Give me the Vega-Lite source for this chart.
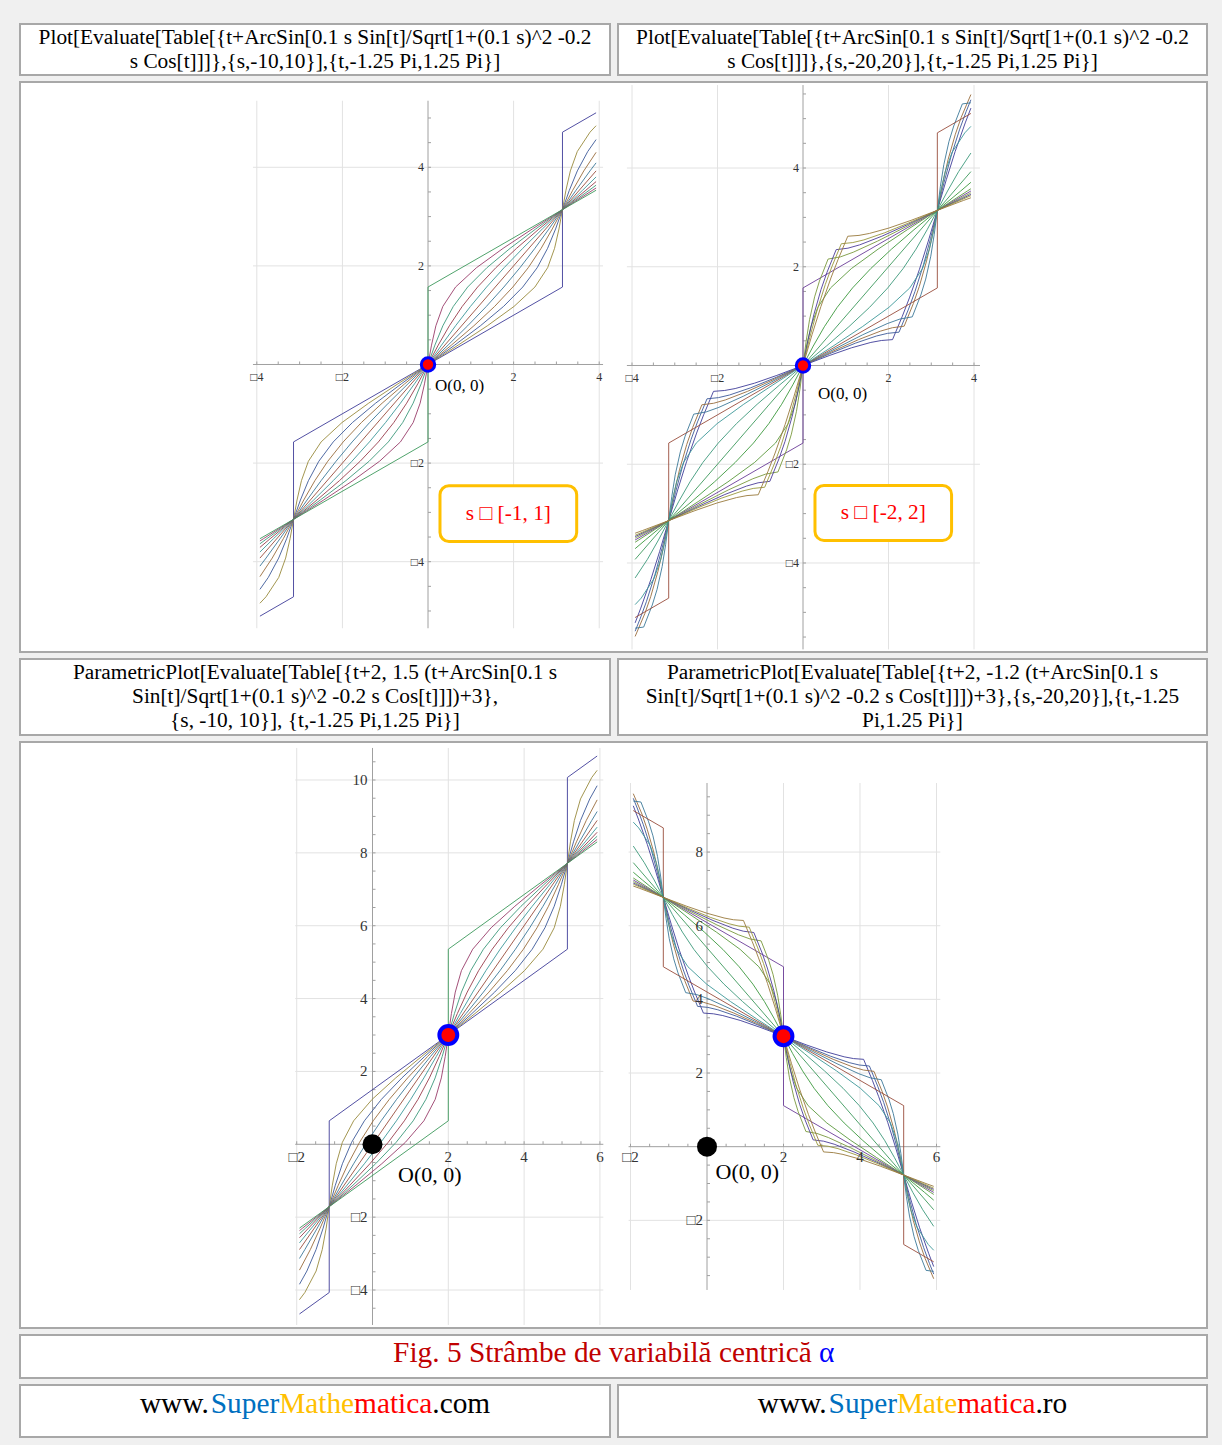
{
"$schema": "https://vega.github.io/schema/vega-lite/v6.json",
"background": "#f0f0f0",
"padding": {"left": 19, "top": 23, "right": 14, "bottom": 7},
"spacing": 5,
"config": {
  "view": {"stroke": "#a8a8a8", "strokeWidth": 2, "fill": "#ffffff"},
  "text": {"font": "Liberation Serif", "baseline": "middle"},
  "legend": {"disable": true}
},
"datasets": {
"d1": [
{"s":-10,"t":-3.927,"f":-5.105,"x":-1.927,"y":-4.658},
{"s":-10,"t":-3.142,"f":-4.712,"x":-1.142,"y":-4.069},
{"s":-10,"t":-3.142,"f":-1.571,"x":-1.142,"y":0.644},
{"s":-10,"t":0,"f":0,"x":2,"y":3},
{"s":-10,"t":3.142,"f":1.571,"x":5.142,"y":5.356},
{"s":-10,"t":3.142,"f":4.712,"x":5.142,"y":10.069},
{"s":-10,"t":3.927,"f":5.105,"x":5.927,"y":10.658},
{"s":-8,"t":-3.927,"f":-4.843,"x":-1.927,"y":-4.265},
{"s":-8,"t":-3.785,"f":-4.712,"x":-1.785,"y":-4.069},
{"s":-8,"t":-3.488,"f":-4.32,"x":-1.488,"y":-3.48},
{"s":-8,"t":-3.326,"f":-3.927,"x":-1.326,"y":-2.89},
{"s":-8,"t":-3.223,"f":-3.534,"x":-1.223,"y":-2.301},
{"s":-8,"t":-3.142,"f":-3.142,"x":-1.142,"y":-1.712},
{"s":-8,"t":-3.06,"f":-2.749,"x":-1.06,"y":-1.123},
{"s":-8,"t":-2.957,"f":-2.356,"x":-0.957,"y":-0.534},
{"s":-8,"t":-2.795,"f":-1.963,"x":-0.795,"y":0.055},
{"s":-8,"t":-2.498,"f":-1.571,"x":-0.498,"y":0.644},
{"s":-8,"t":-2.01,"f":-1.178,"x":-0.01,"y":1.233},
{"s":-8,"t":-1.387,"f":-0.785,"x":0.613,"y":1.822},
{"s":-8,"t":-0.704,"f":-0.393,"x":1.296,"y":2.411},
{"s":-8,"t":0,"f":0,"x":2,"y":3},
{"s":-8,"t":0.704,"f":0.393,"x":2.704,"y":3.589},
{"s":-8,"t":1.387,"f":0.785,"x":3.387,"y":4.178},
{"s":-8,"t":2.01,"f":1.178,"x":4.01,"y":4.767},
{"s":-8,"t":2.498,"f":1.571,"x":4.498,"y":5.356},
{"s":-8,"t":2.795,"f":1.963,"x":4.795,"y":5.945},
{"s":-8,"t":2.957,"f":2.356,"x":4.957,"y":6.534},
{"s":-8,"t":3.06,"f":2.749,"x":5.06,"y":7.123},
{"s":-8,"t":3.142,"f":3.142,"x":5.142,"y":7.712},
{"s":-8,"t":3.223,"f":3.534,"x":5.223,"y":8.301},
{"s":-8,"t":3.326,"f":3.927,"x":5.326,"y":8.89},
{"s":-8,"t":3.488,"f":4.32,"x":5.488,"y":9.48},
{"s":-8,"t":3.785,"f":4.712,"x":5.785,"y":10.069},
{"s":-8,"t":3.927,"f":4.843,"x":5.927,"y":10.265},
{"s":-6,"t":-3.927,"f":-4.562,"x":-1.927,"y":-3.843},
{"s":-6,"t":-3.732,"f":-4.32,"x":-1.732,"y":-3.48},
{"s":-6,"t":-3.489,"f":-3.927,"x":-1.489,"y":-2.89},
{"s":-6,"t":-3.303,"f":-3.534,"x":-1.303,"y":-2.301},
{"s":-6,"t":-3.142,"f":-3.142,"x":-1.142,"y":-1.712},
{"s":-6,"t":-2.981,"f":-2.749,"x":-0.981,"y":-1.123},
{"s":-6,"t":-2.794,"f":-2.356,"x":-0.794,"y":-0.534},
{"s":-6,"t":-2.551,"f":-1.963,"x":-0.551,"y":0.055},
{"s":-6,"t":-2.214,"f":-1.571,"x":-0.214,"y":0.644},
{"s":-6,"t":-1.766,"f":-1.178,"x":0.234,"y":1.233},
{"s":-6,"t":-1.224,"f":-0.785,"x":0.776,"y":1.822},
{"s":-6,"t":-0.624,"f":-0.393,"x":1.376,"y":2.411},
{"s":-6,"t":0,"f":0,"x":2,"y":3},
{"s":-6,"t":0.624,"f":0.393,"x":2.624,"y":3.589},
{"s":-6,"t":1.224,"f":0.785,"x":3.224,"y":4.178},
{"s":-6,"t":1.766,"f":1.178,"x":3.766,"y":4.767},
{"s":-6,"t":2.214,"f":1.571,"x":4.214,"y":5.356},
{"s":-6,"t":2.551,"f":1.963,"x":4.551,"y":5.945},
{"s":-6,"t":2.794,"f":2.356,"x":4.794,"y":6.534},
{"s":-6,"t":2.981,"f":2.749,"x":4.981,"y":7.123},
{"s":-6,"t":3.142,"f":3.142,"x":5.142,"y":7.712},
{"s":-6,"t":3.303,"f":3.534,"x":5.303,"y":8.301},
{"s":-6,"t":3.489,"f":3.927,"x":5.489,"y":8.89},
{"s":-6,"t":3.732,"f":4.32,"x":5.732,"y":9.48},
{"s":-6,"t":3.927,"f":4.562,"x":5.927,"y":9.843},
{"s":-4,"t":-3.927,"f":-4.303,"x":-1.927,"y":-3.454},
{"s":-4,"t":-3.64,"f":-3.927,"x":-1.64,"y":-2.89},
{"s":-4,"t":-3.381,"f":-3.534,"x":-1.381,"y":-2.301},
{"s":-4,"t":-3.142,"f":-3.142,"x":-1.142,"y":-1.712},
{"s":-4,"t":-2.903,"f":-2.749,"x":-0.903,"y":-1.123},
{"s":-4,"t":-2.643,"f":-2.356,"x":-0.643,"y":-0.534},
{"s":-4,"t":-2.342,"f":-1.963,"x":-0.342,"y":0.055},
{"s":-4,"t":-1.982,"f":-1.571,"x":0.018,"y":0.644},
{"s":-4,"t":-1.557,"f":-1.178,"x":0.443,"y":1.233},
{"s":-4,"t":-1.072,"f":-0.785,"x":0.928,"y":1.822},
{"s":-4,"t":-0.546,"f":-0.393,"x":1.454,"y":2.411},
{"s":-4,"t":0,"f":0,"x":2,"y":3},
{"s":-4,"t":0.546,"f":0.393,"x":2.546,"y":3.589},
{"s":-4,"t":1.072,"f":0.785,"x":3.072,"y":4.178},
{"s":-4,"t":1.557,"f":1.178,"x":3.557,"y":4.767},
{"s":-4,"t":1.982,"f":1.571,"x":3.982,"y":5.356},
{"s":-4,"t":2.342,"f":1.963,"x":4.342,"y":5.945},
{"s":-4,"t":2.643,"f":2.356,"x":4.643,"y":6.534},
{"s":-4,"t":2.903,"f":2.749,"x":4.903,"y":7.123},
{"s":-4,"t":3.142,"f":3.142,"x":5.142,"y":7.712},
{"s":-4,"t":3.381,"f":3.534,"x":5.381,"y":8.301},
{"s":-4,"t":3.64,"f":3.927,"x":5.64,"y":8.89},
{"s":-4,"t":3.927,"f":4.303,"x":5.927,"y":9.454},
{"s":-2,"t":-3.927,"f":-4.09,"x":-1.927,"y":-3.135},
{"s":-2,"t":-3.785,"f":-3.927,"x":-1.785,"y":-2.89},
{"s":-2,"t":-3.458,"f":-3.534,"x":-1.458,"y":-2.301},
{"s":-2,"t":-3.142,"f":-3.142,"x":-1.142,"y":-1.712},
{"s":-2,"t":-2.826,"f":-2.749,"x":-0.826,"y":-1.123},
{"s":-2,"t":-2.498,"f":-2.356,"x":-0.498,"y":-0.534},
{"s":-2,"t":-2.149,"f":-1.963,"x":-0.149,"y":0.055},
{"s":-2,"t":-1.772,"f":-1.571,"x":0.228,"y":0.644},
{"s":-2,"t":-1.364,"f":-1.178,"x":0.636,"y":1.233},
{"s":-2,"t":-0.927,"f":-0.785,"x":1.073,"y":1.822},
{"s":-2,"t":-0.469,"f":-0.393,"x":1.531,"y":2.411},
{"s":-2,"t":0,"f":0,"x":2,"y":3},
{"s":-2,"t":0.469,"f":0.393,"x":2.469,"y":3.589},
{"s":-2,"t":0.927,"f":0.785,"x":2.927,"y":4.178},
{"s":-2,"t":1.364,"f":1.178,"x":3.364,"y":4.767},
{"s":-2,"t":1.772,"f":1.571,"x":3.772,"y":5.356},
{"s":-2,"t":2.149,"f":1.963,"x":4.149,"y":5.945},
{"s":-2,"t":2.498,"f":2.356,"x":4.498,"y":6.534},
{"s":-2,"t":2.826,"f":2.749,"x":4.826,"y":7.123},
{"s":-2,"t":3.142,"f":3.142,"x":5.142,"y":7.712},
{"s":-2,"t":3.458,"f":3.534,"x":5.458,"y":8.301},
{"s":-2,"t":3.785,"f":3.927,"x":5.785,"y":8.89},
{"s":-2,"t":3.927,"f":4.09,"x":5.927,"y":9.135},
{"s":0,"t":-3.927,"f":-3.927,"x":-1.927,"y":-2.89},
{"s":0,"t":0,"f":0,"x":2,"y":3},
{"s":0,"t":3.927,"f":3.927,"x":5.927,"y":8.89},
{"s":2,"t":-3.927,"f":-3.804,"x":-1.927,"y":-2.706},
{"s":2,"t":-3.611,"f":-3.534,"x":-1.611,"y":-2.301},
{"s":2,"t":-3.142,"f":-3.142,"x":-1.142,"y":-1.712},
{"s":2,"t":-2.672,"f":-2.749,"x":-0.672,"y":-1.123},
{"s":2,"t":-2.214,"f":-2.356,"x":-0.214,"y":-0.534},
{"s":2,"t":-1.778,"f":-1.963,"x":0.222,"y":0.055},
{"s":2,"t":-1.369,"f":-1.571,"x":0.631,"y":0.644},
{"s":2,"t":-0.992,"f":-1.178,"x":1.008,"y":1.233},
{"s":2,"t":-0.644,"f":-0.785,"x":1.356,"y":1.822},
{"s":2,"t":-0.316,"f":-0.393,"x":1.684,"y":2.411},
{"s":2,"t":0,"f":0,"x":2,"y":3},
{"s":2,"t":0.316,"f":0.393,"x":2.316,"y":3.589},
{"s":2,"t":0.644,"f":0.785,"x":2.644,"y":4.178},
{"s":2,"t":0.992,"f":1.178,"x":2.992,"y":4.767},
{"s":2,"t":1.369,"f":1.571,"x":3.369,"y":5.356},
{"s":2,"t":1.778,"f":1.963,"x":3.778,"y":5.945},
{"s":2,"t":2.214,"f":2.356,"x":4.214,"y":6.534},
{"s":2,"t":2.672,"f":2.749,"x":4.672,"y":7.123},
{"s":2,"t":3.142,"f":3.142,"x":5.142,"y":7.712},
{"s":2,"t":3.611,"f":3.534,"x":5.611,"y":8.301},
{"s":2,"t":3.927,"f":3.804,"x":5.927,"y":8.706},
{"s":4,"t":-3.927,"f":-3.71,"x":-1.927,"y":-2.565},
{"s":4,"t":-3.688,"f":-3.534,"x":-1.688,"y":-2.301},
{"s":4,"t":-3.142,"f":-3.142,"x":-1.142,"y":-1.712},
{"s":4,"t":-2.595,"f":-2.749,"x":-0.595,"y":-1.123},
{"s":4,"t":-2.069,"f":-2.356,"x":-0.069,"y":-0.534},
{"s":4,"t":-1.585,"f":-1.963,"x":0.415,"y":0.055},
{"s":4,"t":-1.159,"f":-1.571,"x":0.841,"y":0.644},
{"s":4,"t":-0.8,"f":-1.178,"x":1.2,"y":1.233},
{"s":4,"t":-0.499,"f":-0.785,"x":1.501,"y":1.822},
{"s":4,"t":-0.239,"f":-0.393,"x":1.761,"y":2.411},
{"s":4,"t":0,"f":0,"x":2,"y":3},
{"s":4,"t":0.239,"f":0.393,"x":2.239,"y":3.589},
{"s":4,"t":0.499,"f":0.785,"x":2.499,"y":4.178},
{"s":4,"t":0.8,"f":1.178,"x":2.8,"y":4.767},
{"s":4,"t":1.159,"f":1.571,"x":3.159,"y":5.356},
{"s":4,"t":1.585,"f":1.963,"x":3.585,"y":5.945},
{"s":4,"t":2.069,"f":2.356,"x":4.069,"y":6.534},
{"s":4,"t":2.595,"f":2.749,"x":4.595,"y":7.123},
{"s":4,"t":3.142,"f":3.142,"x":5.142,"y":7.712},
{"s":4,"t":3.688,"f":3.534,"x":5.688,"y":8.301},
{"s":4,"t":3.927,"f":3.71,"x":5.927,"y":8.565},
{"s":6,"t":-3.927,"f":-3.637,"x":-1.927,"y":-2.456},
{"s":6,"t":-3.766,"f":-3.534,"x":-1.766,"y":-2.301},
{"s":6,"t":-3.142,"f":-3.142,"x":-1.142,"y":-1.712},
{"s":6,"t":-2.517,"f":-2.749,"x":-0.517,"y":-1.123},
{"s":6,"t":-1.918,"f":-2.356,"x":0.082,"y":-0.534},
{"s":6,"t":-1.376,"f":-1.963,"x":0.624,"y":0.055},
{"s":6,"t":-0.927,"f":-1.571,"x":1.073,"y":0.644},
{"s":6,"t":-0.591,"f":-1.178,"x":1.409,"y":1.233},
{"s":6,"t":-0.347,"f":-0.785,"x":1.653,"y":1.822},
{"s":6,"t":-0.161,"f":-0.393,"x":1.839,"y":2.411},
{"s":6,"t":0,"f":0,"x":2,"y":3},
{"s":6,"t":0.161,"f":0.393,"x":2.161,"y":3.589},
{"s":6,"t":0.347,"f":0.785,"x":2.347,"y":4.178},
{"s":6,"t":0.591,"f":1.178,"x":2.591,"y":4.767},
{"s":6,"t":0.927,"f":1.571,"x":2.927,"y":5.356},
{"s":6,"t":1.376,"f":1.963,"x":3.376,"y":5.945},
{"s":6,"t":1.918,"f":2.356,"x":3.918,"y":6.534},
{"s":6,"t":2.517,"f":2.749,"x":4.517,"y":7.123},
{"s":6,"t":3.142,"f":3.142,"x":5.142,"y":7.712},
{"s":6,"t":3.766,"f":3.534,"x":5.766,"y":8.301},
{"s":6,"t":3.927,"f":3.637,"x":5.927,"y":8.456},
{"s":8,"t":-3.927,"f":-3.58,"x":-1.927,"y":-2.37},
{"s":8,"t":-3.845,"f":-3.534,"x":-1.845,"y":-2.301},
{"s":8,"t":-3.142,"f":-3.142,"x":-1.142,"y":-1.712},
{"s":8,"t":-2.438,"f":-2.749,"x":-0.438,"y":-1.123},
{"s":8,"t":-1.755,"f":-2.356,"x":0.245,"y":-0.534},
{"s":8,"t":-1.132,"f":-1.963,"x":0.868,"y":0.055},
{"s":8,"t":-0.644,"f":-1.571,"x":1.356,"y":0.644},
{"s":8,"t":-0.346,"f":-1.178,"x":1.654,"y":1.233},
{"s":8,"t":-0.184,"f":-0.785,"x":1.816,"y":1.822},
{"s":8,"t":-0.082,"f":-0.393,"x":1.918,"y":2.411},
{"s":8,"t":0,"f":0,"x":2,"y":3},
{"s":8,"t":0.082,"f":0.393,"x":2.082,"y":3.589},
{"s":8,"t":0.184,"f":0.785,"x":2.184,"y":4.178},
{"s":8,"t":0.346,"f":1.178,"x":2.346,"y":4.767},
{"s":8,"t":0.644,"f":1.571,"x":2.644,"y":5.356},
{"s":8,"t":1.132,"f":1.963,"x":3.132,"y":5.945},
{"s":8,"t":1.755,"f":2.356,"x":3.755,"y":6.534},
{"s":8,"t":2.438,"f":2.749,"x":4.438,"y":7.123},
{"s":8,"t":3.142,"f":3.142,"x":5.142,"y":7.712},
{"s":8,"t":3.845,"f":3.534,"x":5.845,"y":8.301},
{"s":8,"t":3.927,"f":3.58,"x":5.927,"y":8.37},
{"s":10,"t":-3.927,"f":-3.534,"x":-1.927,"y":-2.301},
{"s":10,"t":0,"f":-1.571,"x":2,"y":0.644},
{"s":10,"t":0,"f":1.571,"x":2,"y":5.356},
{"s":10,"t":3.927,"f":3.534,"x":5.927,"y":8.301}
],
"d2": [
{"s":-20,"t":-3.927,"f":-5.213,"x":-1.927,"y":9.255},
{"s":-20,"t":-3.795,"f":-4.914,"x":-1.795,"y":8.897},
{"s":-20,"t":-3.559,"f":-4.335,"x":-1.559,"y":8.202},
{"s":-20,"t":-3.352,"f":-3.763,"x":-1.352,"y":7.516},
{"s":-20,"t":-3.142,"f":-3.142,"x":-1.142,"y":6.77},
{"s":-20,"t":-2.931,"f":-2.52,"x":-0.931,"y":6.024},
{"s":-20,"t":-2.724,"f":-1.948,"x":-0.724,"y":5.338},
{"s":-20,"t":-2.489,"f":-1.369,"x":-0.489,"y":4.643},
{"s":-20,"t":-2.323,"f":-0.997,"x":-0.323,"y":4.197},
{"s":-20,"t":-2.094,"f":-0.524,"x":-0.094,"y":3.628},
{"s":-20,"t":-1.832,"f":-0.506,"x":0.168,"y":3.608},
{"s":-20,"t":-1.587,"f":-0.467,"x":0.413,"y":3.56},
{"s":-20,"t":-1.133,"f":-0.358,"x":0.867,"y":3.429},
{"s":-20,"t":-0.613,"f":-0.201,"x":1.387,"y":3.242},
{"s":-20,"t":0,"f":0,"x":2,"y":3},
{"s":-20,"t":0.613,"f":0.201,"x":2.613,"y":2.758},
{"s":-20,"t":1.133,"f":0.358,"x":3.133,"y":2.571},
{"s":-20,"t":1.587,"f":0.467,"x":3.587,"y":2.44},
{"s":-20,"t":1.832,"f":0.506,"x":3.832,"y":2.392},
{"s":-20,"t":2.094,"f":0.524,"x":4.094,"y":2.372},
{"s":-20,"t":2.323,"f":0.997,"x":4.323,"y":1.803},
{"s":-20,"t":2.489,"f":1.369,"x":4.489,"y":1.357},
{"s":-20,"t":2.724,"f":1.948,"x":4.724,"y":0.662},
{"s":-20,"t":2.931,"f":2.52,"x":4.931,"y":-0.024},
{"s":-20,"t":3.142,"f":3.142,"x":5.142,"y":-0.77},
{"s":-20,"t":3.352,"f":3.763,"x":5.352,"y":-1.516},
{"s":-20,"t":3.559,"f":4.335,"x":5.559,"y":-2.202},
{"s":-20,"t":3.795,"f":4.914,"x":5.795,"y":-2.897},
{"s":-20,"t":3.927,"f":5.213,"x":5.927,"y":-3.255},
{"s":-16,"t":-3.927,"f":-5.382,"x":-1.927,"y":9.459},
{"s":-16,"t":-3.815,"f":-5.141,"x":-1.815,"y":9.169},
{"s":-16,"t":-3.664,"f":-4.784,"x":-1.664,"y":8.74},
{"s":-16,"t":-3.464,"f":-4.24,"x":-1.464,"y":8.087},
{"s":-16,"t":-3.3,"f":-3.712,"x":-1.3,"y":7.454},
{"s":-16,"t":-3.142,"f":-3.142,"x":-1.142,"y":6.77},
{"s":-16,"t":-2.983,"f":-2.571,"x":-0.983,"y":6.085},
{"s":-16,"t":-2.819,"f":-2.044,"x":-0.819,"y":5.452},
{"s":-16,"t":-2.619,"f":-1.499,"x":-0.619,"y":4.799},
{"s":-16,"t":-2.468,"f":-1.142,"x":-0.468,"y":4.371},
{"s":-16,"t":-2.246,"f":-0.675,"x":-0.246,"y":3.81},
{"s":-16,"t":-1.977,"f":-0.651,"x":0.023,"y":3.782},
{"s":-16,"t":-1.717,"f":-0.597,"x":0.283,"y":3.717},
{"s":-16,"t":-1.228,"f":-0.453,"x":0.772,"y":3.543},
{"s":-16,"t":-0.664,"f":-0.253,"x":1.336,"y":3.303},
{"s":-16,"t":0,"f":0,"x":2,"y":3},
{"s":-16,"t":0.664,"f":0.253,"x":2.664,"y":2.697},
{"s":-16,"t":1.228,"f":0.453,"x":3.228,"y":2.457},
{"s":-16,"t":1.717,"f":0.597,"x":3.717,"y":2.283},
{"s":-16,"t":1.977,"f":0.651,"x":3.977,"y":2.218},
{"s":-16,"t":2.246,"f":0.675,"x":4.246,"y":2.19},
{"s":-16,"t":2.468,"f":1.142,"x":4.468,"y":1.629},
{"s":-16,"t":2.619,"f":1.499,"x":4.619,"y":1.201},
{"s":-16,"t":2.819,"f":2.044,"x":4.819,"y":0.548},
{"s":-16,"t":2.983,"f":2.571,"x":4.983,"y":-0.085},
{"s":-16,"t":3.142,"f":3.142,"x":5.142,"y":-0.77},
{"s":-16,"t":3.3,"f":3.712,"x":5.3,"y":-1.454},
{"s":-16,"t":3.464,"f":4.24,"x":5.464,"y":-2.087},
{"s":-16,"t":3.664,"f":4.784,"x":5.664,"y":-2.74},
{"s":-16,"t":3.815,"f":5.141,"x":5.815,"y":-3.169},
{"s":-16,"t":3.927,"f":5.382,"x":5.927,"y":-3.459},
{"s":-14,"t":-3.927,"f":-5.488,"x":-1.927,"y":9.585},
{"s":-14,"t":-3.701,"f":-5.027,"x":-1.701,"y":9.032},
{"s":-14,"t":-3.563,"f":-4.683,"x":-1.563,"y":8.619},
{"s":-14,"t":-3.393,"f":-4.169,"x":-1.393,"y":8.003},
{"s":-14,"t":-3.263,"f":-3.675,"x":-1.263,"y":7.41},
{"s":-14,"t":-3.142,"f":-3.142,"x":-1.142,"y":6.77},
{"s":-14,"t":-3.02,"f":-2.608,"x":-1.02,"y":6.13},
{"s":-14,"t":-2.89,"f":-2.114,"x":-0.89,"y":5.537},
{"s":-14,"t":-2.72,"f":-1.6,"x":-0.72,"y":4.92},
{"s":-14,"t":-2.582,"f":-1.257,"x":-0.582,"y":4.508},
{"s":-14,"t":-2.366,"f":-0.796,"x":-0.366,"y":3.955},
{"s":-14,"t":-2.091,"f":-0.765,"x":-0.091,"y":3.919},
{"s":-14,"t":-1.818,"f":-0.698,"x":0.182,"y":3.838},
{"s":-14,"t":-1.299,"f":-0.524,"x":0.701,"y":3.628},
{"s":-14,"t":-0.701,"f":-0.29,"x":1.299,"y":3.348},
{"s":-14,"t":0,"f":0,"x":2,"y":3},
{"s":-14,"t":0.701,"f":0.29,"x":2.701,"y":2.652},
{"s":-14,"t":1.299,"f":0.524,"x":3.299,"y":2.372},
{"s":-14,"t":1.818,"f":0.698,"x":3.818,"y":2.162},
{"s":-14,"t":2.091,"f":0.765,"x":4.091,"y":2.081},
{"s":-14,"t":2.366,"f":0.796,"x":4.366,"y":2.045},
{"s":-14,"t":2.582,"f":1.257,"x":4.582,"y":1.492},
{"s":-14,"t":2.72,"f":1.6,"x":4.72,"y":1.08},
{"s":-14,"t":2.89,"f":2.114,"x":4.89,"y":0.463},
{"s":-14,"t":3.02,"f":2.608,"x":5.02,"y":-0.13},
{"s":-14,"t":3.142,"f":3.142,"x":5.142,"y":-0.77},
{"s":-14,"t":3.263,"f":3.675,"x":5.263,"y":-1.41},
{"s":-14,"t":3.393,"f":4.169,"x":5.393,"y":-2.003},
{"s":-14,"t":3.563,"f":4.683,"x":5.563,"y":-2.619},
{"s":-14,"t":3.701,"f":5.027,"x":5.701,"y":-3.032},
{"s":-14,"t":3.927,"f":5.488,"x":5.927,"y":-3.585},
{"s":-12,"t":-3.927,"f":-5.321,"x":-1.927,"y":9.385},
{"s":-12,"t":-3.727,"f":-5.298,"x":-1.727,"y":9.358},
{"s":-12,"t":-3.526,"f":-4.851,"x":-1.526,"y":8.821},
{"s":-12,"t":-3.413,"f":-4.533,"x":-1.413,"y":8.44},
{"s":-12,"t":-3.294,"f":-4.07,"x":-1.294,"y":7.883},
{"s":-12,"t":-3.213,"f":-3.625,"x":-1.213,"y":7.35},
{"s":-12,"t":-3.142,"f":-3.142,"x":-1.142,"y":6.77},
{"s":-12,"t":-3.07,"f":-2.658,"x":-1.07,"y":6.19},
{"s":-12,"t":-2.989,"f":-2.214,"x":-0.989,"y":5.656},
{"s":-12,"t":-2.87,"f":-1.75,"x":-0.87,"y":5.1},
{"s":-12,"t":-2.758,"f":-1.432,"x":-0.758,"y":4.719},
{"s":-12,"t":-2.556,"f":-0.985,"x":-0.556,"y":4.182},
{"s":-12,"t":-2.267,"f":-0.941,"x":-0.267,"y":4.13},
{"s":-12,"t":-1.968,"f":-0.848,"x":0.032,"y":4.018},
{"s":-12,"t":-1.398,"f":-0.623,"x":0.602,"y":3.747},
{"s":-12,"t":-0.751,"f":-0.34,"x":1.249,"y":3.408},
{"s":-12,"t":0,"f":0,"x":2,"y":3},
{"s":-12,"t":0.751,"f":0.34,"x":2.751,"y":2.592},
{"s":-12,"t":1.398,"f":0.623,"x":3.398,"y":2.253},
{"s":-12,"t":1.968,"f":0.848,"x":3.968,"y":1.982},
{"s":-12,"t":2.267,"f":0.941,"x":4.267,"y":1.87},
{"s":-12,"t":2.556,"f":0.985,"x":4.556,"y":1.818},
{"s":-12,"t":2.758,"f":1.432,"x":4.758,"y":1.281},
{"s":-12,"t":2.87,"f":1.75,"x":4.87,"y":0.9},
{"s":-12,"t":2.989,"f":2.214,"x":4.989,"y":0.344},
{"s":-12,"t":3.07,"f":2.658,"x":5.07,"y":-0.19},
{"s":-12,"t":3.142,"f":3.142,"x":5.142,"y":-0.77},
{"s":-12,"t":3.213,"f":3.625,"x":5.213,"y":-1.35},
{"s":-12,"t":3.294,"f":4.07,"x":5.294,"y":-1.883},
{"s":-12,"t":3.413,"f":4.533,"x":5.413,"y":-2.44},
{"s":-12,"t":3.526,"f":4.851,"x":5.526,"y":-2.821},
{"s":-12,"t":3.727,"f":5.298,"x":5.727,"y":-3.358},
{"s":-12,"t":3.927,"f":5.321,"x":5.927,"y":-3.385},
{"s":-10,"t":-3.927,"f":-5.105,"x":-1.927,"y":9.126},
{"s":-10,"t":-3.142,"f":-4.712,"x":-1.142,"y":8.655},
{"s":-10,"t":-3.142,"f":-1.571,"x":-1.142,"y":4.885},
{"s":-10,"t":0,"f":0,"x":2,"y":3},
{"s":-10,"t":3.142,"f":1.571,"x":5.142,"y":1.115},
{"s":-10,"t":3.142,"f":4.712,"x":5.142,"y":-2.655},
{"s":-10,"t":3.927,"f":5.105,"x":5.927,"y":-3.126},
{"s":-8,"t":-3.927,"f":-4.843,"x":-1.927,"y":8.812},
{"s":-8,"t":-3.785,"f":-4.712,"x":-1.785,"y":8.655},
{"s":-8,"t":-3.488,"f":-4.32,"x":-1.488,"y":8.184},
{"s":-8,"t":-3.326,"f":-3.927,"x":-1.326,"y":7.712},
{"s":-8,"t":-3.223,"f":-3.534,"x":-1.223,"y":7.241},
{"s":-8,"t":-3.142,"f":-3.142,"x":-1.142,"y":6.77},
{"s":-8,"t":-3.06,"f":-2.749,"x":-1.06,"y":6.299},
{"s":-8,"t":-2.957,"f":-2.356,"x":-0.957,"y":5.827},
{"s":-8,"t":-2.795,"f":-1.963,"x":-0.795,"y":5.356},
{"s":-8,"t":-2.498,"f":-1.571,"x":-0.498,"y":4.885},
{"s":-8,"t":-2.01,"f":-1.178,"x":-0.01,"y":4.414},
{"s":-8,"t":-1.387,"f":-0.785,"x":0.613,"y":3.942},
{"s":-8,"t":-0.704,"f":-0.393,"x":1.296,"y":3.471},
{"s":-8,"t":0,"f":0,"x":2,"y":3},
{"s":-8,"t":0.704,"f":0.393,"x":2.704,"y":2.529},
{"s":-8,"t":1.387,"f":0.785,"x":3.387,"y":2.058},
{"s":-8,"t":2.01,"f":1.178,"x":4.01,"y":1.586},
{"s":-8,"t":2.498,"f":1.571,"x":4.498,"y":1.115},
{"s":-8,"t":2.795,"f":1.963,"x":4.795,"y":0.644},
{"s":-8,"t":2.957,"f":2.356,"x":4.957,"y":0.173},
{"s":-8,"t":3.06,"f":2.749,"x":5.06,"y":-0.299},
{"s":-8,"t":3.142,"f":3.142,"x":5.142,"y":-0.77},
{"s":-8,"t":3.223,"f":3.534,"x":5.223,"y":-1.241},
{"s":-8,"t":3.326,"f":3.927,"x":5.326,"y":-1.712},
{"s":-8,"t":3.488,"f":4.32,"x":5.488,"y":-2.184},
{"s":-8,"t":3.785,"f":4.712,"x":5.785,"y":-2.655},
{"s":-8,"t":3.927,"f":4.843,"x":5.927,"y":-2.812},
{"s":-4,"t":-3.927,"f":-4.303,"x":-1.927,"y":8.163},
{"s":-4,"t":-3.64,"f":-3.927,"x":-1.64,"y":7.712},
{"s":-4,"t":-3.381,"f":-3.534,"x":-1.381,"y":7.241},
{"s":-4,"t":-3.142,"f":-3.142,"x":-1.142,"y":6.77},
{"s":-4,"t":-2.903,"f":-2.749,"x":-0.903,"y":6.299},
{"s":-4,"t":-2.643,"f":-2.356,"x":-0.643,"y":5.827},
{"s":-4,"t":-2.342,"f":-1.963,"x":-0.342,"y":5.356},
{"s":-4,"t":-1.982,"f":-1.571,"x":0.018,"y":4.885},
{"s":-4,"t":-1.557,"f":-1.178,"x":0.443,"y":4.414},
{"s":-4,"t":-1.072,"f":-0.785,"x":0.928,"y":3.942},
{"s":-4,"t":-0.546,"f":-0.393,"x":1.454,"y":3.471},
{"s":-4,"t":0,"f":0,"x":2,"y":3},
{"s":-4,"t":0.546,"f":0.393,"x":2.546,"y":2.529},
{"s":-4,"t":1.072,"f":0.785,"x":3.072,"y":2.058},
{"s":-4,"t":1.557,"f":1.178,"x":3.557,"y":1.586},
{"s":-4,"t":1.982,"f":1.571,"x":3.982,"y":1.115},
{"s":-4,"t":2.342,"f":1.963,"x":4.342,"y":0.644},
{"s":-4,"t":2.643,"f":2.356,"x":4.643,"y":0.173},
{"s":-4,"t":2.903,"f":2.749,"x":4.903,"y":-0.299},
{"s":-4,"t":3.142,"f":3.142,"x":5.142,"y":-0.77},
{"s":-4,"t":3.381,"f":3.534,"x":5.381,"y":-1.241},
{"s":-4,"t":3.64,"f":3.927,"x":5.64,"y":-1.712},
{"s":-4,"t":3.927,"f":4.303,"x":5.927,"y":-2.163},
{"s":0,"t":-3.927,"f":-3.927,"x":-1.927,"y":7.712},
{"s":0,"t":0,"f":0,"x":2,"y":3},
{"s":0,"t":3.927,"f":3.927,"x":5.927,"y":-1.712},
{"s":4,"t":-3.927,"f":-3.71,"x":-1.927,"y":7.452},
{"s":4,"t":-3.688,"f":-3.534,"x":-1.688,"y":7.241},
{"s":4,"t":-3.142,"f":-3.142,"x":-1.142,"y":6.77},
{"s":4,"t":-2.595,"f":-2.749,"x":-0.595,"y":6.299},
{"s":4,"t":-2.069,"f":-2.356,"x":-0.069,"y":5.827},
{"s":4,"t":-1.585,"f":-1.963,"x":0.415,"y":5.356},
{"s":4,"t":-1.159,"f":-1.571,"x":0.841,"y":4.885},
{"s":4,"t":-0.8,"f":-1.178,"x":1.2,"y":4.414},
{"s":4,"t":-0.499,"f":-0.785,"x":1.501,"y":3.942},
{"s":4,"t":-0.239,"f":-0.393,"x":1.761,"y":3.471},
{"s":4,"t":0,"f":0,"x":2,"y":3},
{"s":4,"t":0.239,"f":0.393,"x":2.239,"y":2.529},
{"s":4,"t":0.499,"f":0.785,"x":2.499,"y":2.058},
{"s":4,"t":0.8,"f":1.178,"x":2.8,"y":1.586},
{"s":4,"t":1.159,"f":1.571,"x":3.159,"y":1.115},
{"s":4,"t":1.585,"f":1.963,"x":3.585,"y":0.644},
{"s":4,"t":2.069,"f":2.356,"x":4.069,"y":0.173},
{"s":4,"t":2.595,"f":2.749,"x":4.595,"y":-0.299},
{"s":4,"t":3.142,"f":3.142,"x":5.142,"y":-0.77},
{"s":4,"t":3.688,"f":3.534,"x":5.688,"y":-1.241},
{"s":4,"t":3.927,"f":3.71,"x":5.927,"y":-1.452},
{"s":8,"t":-3.927,"f":-3.58,"x":-1.927,"y":7.296},
{"s":8,"t":-3.845,"f":-3.534,"x":-1.845,"y":7.241},
{"s":8,"t":-3.142,"f":-3.142,"x":-1.142,"y":6.77},
{"s":8,"t":-2.438,"f":-2.749,"x":-0.438,"y":6.299},
{"s":8,"t":-1.755,"f":-2.356,"x":0.245,"y":5.827},
{"s":8,"t":-1.132,"f":-1.963,"x":0.868,"y":5.356},
{"s":8,"t":-0.644,"f":-1.571,"x":1.356,"y":4.885},
{"s":8,"t":-0.346,"f":-1.178,"x":1.654,"y":4.414},
{"s":8,"t":-0.184,"f":-0.785,"x":1.816,"y":3.942},
{"s":8,"t":-0.082,"f":-0.393,"x":1.918,"y":3.471},
{"s":8,"t":0,"f":0,"x":2,"y":3},
{"s":8,"t":0.082,"f":0.393,"x":2.082,"y":2.529},
{"s":8,"t":0.184,"f":0.785,"x":2.184,"y":2.058},
{"s":8,"t":0.346,"f":1.178,"x":2.346,"y":1.586},
{"s":8,"t":0.644,"f":1.571,"x":2.644,"y":1.115},
{"s":8,"t":1.132,"f":1.963,"x":3.132,"y":0.644},
{"s":8,"t":1.755,"f":2.356,"x":3.755,"y":0.173},
{"s":8,"t":2.438,"f":2.749,"x":4.438,"y":-0.299},
{"s":8,"t":3.142,"f":3.142,"x":5.142,"y":-0.77},
{"s":8,"t":3.845,"f":3.534,"x":5.845,"y":-1.241},
{"s":8,"t":3.927,"f":3.58,"x":5.927,"y":-1.296},
{"s":10,"t":-3.927,"f":-3.534,"x":-1.927,"y":7.241},
{"s":10,"t":0,"f":-1.571,"x":2,"y":4.885},
{"s":10,"t":0,"f":1.571,"x":2,"y":1.115},
{"s":10,"t":3.927,"f":3.534,"x":5.927,"y":-1.241},
{"s":12,"t":-3.927,"f":-3.497,"x":-1.927,"y":7.196},
{"s":12,"t":-3.893,"f":-3.481,"x":-1.893,"y":7.178},
{"s":12,"t":-3.142,"f":-3.142,"x":-1.142,"y":6.77},
{"s":12,"t":-2.39,"f":-2.802,"x":-0.39,"y":6.362},
{"s":12,"t":-1.743,"f":-2.519,"x":0.257,"y":6.023},
{"s":12,"t":-1.174,"f":-2.294,"x":0.826,"y":5.752},
{"s":12,"t":-0.875,"f":-2.2,"x":1.125,"y":5.64},
{"s":12,"t":-0.586,"f":-2.156,"x":1.414,"y":5.588},
{"s":12,"t":-0.384,"f":-1.709,"x":1.616,"y":5.051},
{"s":12,"t":-0.272,"f":-1.391,"x":1.728,"y":4.67},
{"s":12,"t":-0.153,"f":-0.928,"x":1.847,"y":4.114},
{"s":12,"t":-0.072,"f":-0.483,"x":1.928,"y":3.58},
{"s":12,"t":0,"f":0,"x":2,"y":3},
{"s":12,"t":0.072,"f":0.483,"x":2.072,"y":2.42},
{"s":12,"t":0.153,"f":0.928,"x":2.153,"y":1.886},
{"s":12,"t":0.272,"f":1.391,"x":2.272,"y":1.33},
{"s":12,"t":0.384,"f":1.709,"x":2.384,"y":0.949},
{"s":12,"t":0.586,"f":2.156,"x":2.586,"y":0.412},
{"s":12,"t":0.875,"f":2.2,"x":2.875,"y":0.36},
{"s":12,"t":1.174,"f":2.294,"x":3.174,"y":0.248},
{"s":12,"t":1.743,"f":2.519,"x":3.743,"y":-0.023},
{"s":12,"t":2.39,"f":2.802,"x":4.39,"y":-0.362},
{"s":12,"t":3.142,"f":3.142,"x":5.142,"y":-0.77},
{"s":12,"t":3.893,"f":3.481,"x":5.893,"y":-1.178},
{"s":12,"t":3.927,"f":3.497,"x":5.927,"y":-1.196},
{"s":14,"t":-3.927,"f":-3.465,"x":-1.927,"y":7.158},
{"s":14,"t":-3.843,"f":-3.431,"x":-1.843,"y":7.118},
{"s":14,"t":-3.142,"f":-3.142,"x":-1.142,"y":6.77},
{"s":14,"t":-2.44,"f":-2.852,"x":-0.44,"y":6.422},
{"s":14,"t":-1.843,"f":-2.618,"x":0.157,"y":6.142},
{"s":14,"t":-1.324,"f":-2.443,"x":0.676,"y":5.932},
{"s":14,"t":-1.051,"f":-2.376,"x":0.949,"y":5.851},
{"s":14,"t":-0.775,"f":-2.346,"x":1.225,"y":5.815},
{"s":14,"t":-0.56,"f":-1.885,"x":1.44,"y":5.262},
{"s":14,"t":-0.422,"f":-1.541,"x":1.578,"y":4.85},
{"s":14,"t":-0.252,"f":-1.027,"x":1.748,"y":4.233},
{"s":14,"t":-0.122,"f":-0.533,"x":1.878,"y":3.64},
{"s":14,"t":0,"f":0,"x":2,"y":3},
{"s":14,"t":0.122,"f":0.533,"x":2.122,"y":2.36},
{"s":14,"t":0.252,"f":1.027,"x":2.252,"y":1.767},
{"s":14,"t":0.422,"f":1.541,"x":2.422,"y":1.15},
{"s":14,"t":0.56,"f":1.885,"x":2.56,"y":0.738},
{"s":14,"t":0.775,"f":2.346,"x":2.775,"y":0.185},
{"s":14,"t":1.051,"f":2.376,"x":3.051,"y":0.149},
{"s":14,"t":1.324,"f":2.443,"x":3.324,"y":0.068},
{"s":14,"t":1.843,"f":2.618,"x":3.843,"y":-0.142},
{"s":14,"t":2.44,"f":2.852,"x":4.44,"y":-0.422},
{"s":14,"t":3.142,"f":3.142,"x":5.142,"y":-0.77},
{"s":14,"t":3.843,"f":3.431,"x":5.843,"y":-1.118},
{"s":14,"t":3.927,"f":3.465,"x":5.927,"y":-1.158},
{"s":16,"t":-3.927,"f":-3.439,"x":-1.927,"y":7.127},
{"s":16,"t":-3.806,"f":-3.394,"x":-1.806,"y":7.073},
{"s":16,"t":-3.142,"f":-3.142,"x":-1.142,"y":6.77},
{"s":16,"t":-2.477,"f":-2.889,"x":-0.477,"y":6.467},
{"s":16,"t":-1.913,"f":-2.689,"x":0.087,"y":6.227},
{"s":16,"t":-1.424,"f":-2.544,"x":0.576,"y":6.053},
{"s":16,"t":-1.165,"f":-2.49,"x":0.835,"y":5.988},
{"s":16,"t":-0.896,"f":-2.466,"x":1.104,"y":5.96},
{"s":16,"t":-0.674,"f":-1.999,"x":1.326,"y":5.399},
{"s":16,"t":-0.522,"f":-1.642,"x":1.478,"y":4.971},
{"s":16,"t":-0.323,"f":-1.098,"x":1.677,"y":4.318},
{"s":16,"t":-0.159,"f":-0.57,"x":1.841,"y":3.684},
{"s":16,"t":0,"f":0,"x":2,"y":3},
{"s":16,"t":0.159,"f":0.57,"x":2.159,"y":2.316},
{"s":16,"t":0.323,"f":1.098,"x":2.323,"y":1.682},
{"s":16,"t":0.522,"f":1.642,"x":2.522,"y":1.029},
{"s":16,"t":0.674,"f":1.999,"x":2.674,"y":0.601},
{"s":16,"t":0.896,"f":2.466,"x":2.896,"y":0.04},
{"s":16,"t":1.165,"f":2.49,"x":3.165,"y":0.012},
{"s":16,"t":1.424,"f":2.544,"x":3.424,"y":-0.053},
{"s":16,"t":1.913,"f":2.689,"x":3.913,"y":-0.227},
{"s":16,"t":2.477,"f":2.889,"x":4.477,"y":-0.467},
{"s":16,"t":3.142,"f":3.142,"x":5.142,"y":-0.77},
{"s":16,"t":3.806,"f":3.394,"x":5.806,"y":-1.073},
{"s":16,"t":3.927,"f":3.439,"x":5.927,"y":-1.127},
{"s":20,"t":-3.927,"f":-3.397,"x":-1.927,"y":7.077},
{"s":20,"t":-3.754,"f":-3.343,"x":-1.754,"y":7.012},
{"s":20,"t":-3.142,"f":-3.142,"x":-1.142,"y":6.77},
{"s":20,"t":-2.529,"f":-2.94,"x":-0.529,"y":6.528},
{"s":20,"t":-2.009,"f":-2.784,"x":-0.009,"y":6.341},
{"s":20,"t":-1.555,"f":-2.675,"x":0.445,"y":6.21},
{"s":20,"t":-1.31,"f":-2.635,"x":0.69,"y":6.162},
{"s":20,"t":-1.047,"f":-2.618,"x":0.953,"y":6.142},
{"s":20,"t":-0.819,"f":-2.144,"x":1.181,"y":5.573},
{"s":20,"t":-0.653,"f":-1.773,"x":1.347,"y":5.127},
{"s":20,"t":-0.418,"f":-1.193,"x":1.582,"y":4.432},
{"s":20,"t":-0.21,"f":-0.622,"x":1.79,"y":3.746},
{"s":20,"t":0,"f":0,"x":2,"y":3},
{"s":20,"t":0.21,"f":0.622,"x":2.21,"y":2.254},
{"s":20,"t":0.418,"f":1.193,"x":2.418,"y":1.568},
{"s":20,"t":0.653,"f":1.773,"x":2.653,"y":0.873},
{"s":20,"t":0.819,"f":2.144,"x":2.819,"y":0.427},
{"s":20,"t":1.047,"f":2.618,"x":3.047,"y":-0.142},
{"s":20,"t":1.31,"f":2.635,"x":3.31,"y":-0.162},
{"s":20,"t":1.555,"f":2.675,"x":3.555,"y":-0.21},
{"s":20,"t":2.009,"f":2.784,"x":4.009,"y":-0.341},
{"s":20,"t":2.529,"f":2.94,"x":4.529,"y":-0.528},
{"s":20,"t":3.142,"f":3.142,"x":5.142,"y":-0.77},
{"s":20,"t":3.754,"f":3.343,"x":5.754,"y":-1.012},
{"s":20,"t":3.927,"f":3.397,"x":5.927,"y":-1.077}
]
},
"vconcat": [
{
 "hconcat": [
  {"width": 590, "height": 51, "data": {"values": [{}]},
   "encoding": {"x": {"datum": 0.5, "type": "quantitative", "scale": {"domain": [0, 1]}, "axis": null}, "y": {"datum": 0.5, "type": "quantitative", "scale": {"domain": [0, 1]}, "axis": null}},
   "layer": [
    {"mark": {"type": "text", "text": "Plot[Evaluate[Table[{t+ArcSin[0.1 s Sin[t]/Sqrt[1+(0.1 s)^2 -0.2", "fontSize": 21.33, "color": "#000000", "dy": -12}},
    {"mark": {"type": "text", "text": "s Cos[t]]]},{s,-10,10}],{t,-1.25 Pi,1.25 Pi}]", "fontSize": 21.33, "color": "#000000", "dy": 12}}
   ]},
  {"width": 589, "height": 51, "data": {"values": [{}]},
   "encoding": {"x": {"datum": 0.5, "type": "quantitative", "scale": {"domain": [0, 1]}, "axis": null}, "y": {"datum": 0.5, "type": "quantitative", "scale": {"domain": [0, 1]}, "axis": null}},
   "layer": [
    {"mark": {"type": "text", "text": "Plot[Evaluate[Table[{t+ArcSin[0.1 s Sin[t]/Sqrt[1+(0.1 s)^2 -0.2", "fontSize": 21.33, "color": "#000000", "dy": -12}},
    {"mark": {"type": "text", "text": "s Cos[t]]]},{s,-20,20}],{t,-1.25 Pi,1.25 Pi}]", "fontSize": 21.33, "color": "#000000", "dy": 12}}
   ]}
 ],
 "spacing": 6
},
{
 "width": 1187, "height": 570,
 "layer": [
  {
   "layer": [
    {"data": {"values": [{"t":-4},{"t":-2},{"t":2},{"t":4}]}, "mark": {"type": "rule", "color": "#e2e2e2", "strokeWidth": 1},
     "encoding": {"x": {"field": "t", "type": "quantitative", "scale": {"domain": [-9.533, 18.201], "nice": false, "zero": false}, "axis": null}, "y": {"datum": -5.35, "type": "quantitative", "scale": {"domain": [-5.832, 5.73], "nice": false, "zero": false}, "axis": null}, "y2": {"datum": 5.35}}},
    {"data": {"values": [{"f":-4},{"f":-2},{"f":2},{"f":4}]}, "mark": {"type": "rule", "color": "#e2e2e2", "strokeWidth": 1},
     "encoding": {"y": {"field": "f", "type": "quantitative", "scale": {"domain": [-5.832, 5.73], "nice": false, "zero": false}, "axis": null}, "x": {"datum": -4.09, "type": "quantitative", "scale": {"domain": [-9.533, 18.201], "nice": false, "zero": false}, "axis": null}, "x2": {"datum": 4.09}}},
    {"data": {"values": [{}]}, "mark": {"type": "rule", "color": "#a0a0a0", "strokeWidth": 1},
     "encoding": {"x": {"datum": 0, "type": "quantitative", "scale": {"domain": [-9.533, 18.201], "nice": false, "zero": false}, "axis": null}, "y": {"datum": -5.35, "type": "quantitative", "scale": {"domain": [-5.832, 5.73], "nice": false, "zero": false}, "axis": null}, "y2": {"datum": 5.35}}},
    {"data": {"values": [{}]}, "mark": {"type": "rule", "color": "#a0a0a0", "strokeWidth": 1},
     "encoding": {"y": {"datum": 0, "type": "quantitative", "scale": {"domain": [-5.832, 5.73], "nice": false, "zero": false}, "axis": null}, "x": {"datum": -4.09, "type": "quantitative", "scale": {"domain": [-9.533, 18.201], "nice": false, "zero": false}, "axis": null}, "x2": {"datum": 4.09}}},
    {"data": {"values": [{"t":-4},{"t":-3.5},{"t":-3},{"t":-2.5},{"t":-2},{"t":-1.5},{"t":-1},{"t":-0.5},{"t":0.5},{"t":1},{"t":1.5},{"t":2},{"t":2.5},{"t":3},{"t":3.5},{"t":4}]}, "mark": {"type": "tick", "orient": "vertical", "size": 3, "thickness": 1, "color": "#a0a0a0", "opacity": 1, "yOffset": -1.5},
     "encoding": {"x": {"field": "t", "type": "quantitative", "scale": {"domain": [-9.533, 18.201], "nice": false, "zero": false}, "axis": null}, "y": {"datum": 0, "type": "quantitative", "scale": {"domain": [-5.832, 5.73], "nice": false, "zero": false}, "axis": null}}},
    {"data": {"values": [{"f":-5},{"f":-4.5},{"f":-4},{"f":-3.5},{"f":-3},{"f":-2.5},{"f":-2},{"f":-1.5},{"f":-1},{"f":-0.5},{"f":0.5},{"f":1},{"f":1.5},{"f":2},{"f":2.5},{"f":3},{"f":3.5},{"f":4},{"f":4.5},{"f":5}]}, "mark": {"type": "tick", "orient": "horizontal", "size": 3, "thickness": 1, "color": "#a0a0a0", "opacity": 1, "xOffset": 1.5},
     "encoding": {"y": {"field": "f", "type": "quantitative", "scale": {"domain": [-5.832, 5.73], "nice": false, "zero": false}, "axis": null}, "x": {"datum": 0, "type": "quantitative", "scale": {"domain": [-9.533, 18.201], "nice": false, "zero": false}, "axis": null}}},
    {"data": {"name": "d1"}, "mark": {"type": "line", "strokeWidth": 1, "opacity": 0.9},
     "encoding": {"x": {"field": "t", "type": "quantitative", "scale": {"domain": [-9.533, 18.201], "nice": false, "zero": false}, "axis": null}, "y": {"field": "f", "type": "quantitative", "scale": {"domain": [-5.832, 5.73], "nice": false, "zero": false}, "axis": null},
      "color": {"field": "s", "type": "ordinal", "scale": {"domain": [-10,-8,-6,-4,-2,0,2,4,6,8,10], "range": ["#3f3d99","#998b3d","#3d5a99","#996d3d","#3d7999","#994e3d","#3d9899","#993d4c","#3d997b","#993d6a","#3d995c"]}, "legend": null}, "order": {"value": null}}},
    {"data": {"values": [{"t":-4,"l":"□4"},{"t":-2,"l":"□2"},{"t":2,"l":"2"},{"t":4,"l":"4"}]}, "mark": {"type": "text", "fontSize": 12, "color": "#333333", "dy": 12.5, "align": "center"},
     "encoding": {"x": {"field": "t", "type": "quantitative", "scale": {"domain": [-9.533, 18.201], "nice": false, "zero": false}, "axis": null}, "y": {"datum": 0, "type": "quantitative", "scale": {"domain": [-5.832, 5.73], "nice": false, "zero": false}, "axis": null}, "text": {"field": "l"}}},
    {"data": {"values": [{"f":4,"l":"4"},{"f":2,"l":"2"},{"f":-2,"l":"□2"},{"f":-4,"l":"□4"}]}, "mark": {"type": "text", "fontSize": 12, "color": "#333333", "dx": -4, "align": "right"},
     "encoding": {"y": {"field": "f", "type": "quantitative", "scale": {"domain": [-5.832, 5.73], "nice": false, "zero": false}, "axis": null}, "x": {"datum": 0, "type": "quantitative", "scale": {"domain": [-9.533, 18.201], "nice": false, "zero": false}, "axis": null}, "text": {"field": "l"}}},
    {"data": {"values": [{}]}, "mark": {"type": "rect", "fill": "#ffffff", "stroke": "#ffc000", "strokeWidth": 3, "cornerRadius": 9},
     "encoding": {"x": {"datum": 0.28, "type": "quantitative", "scale": {"domain": [-9.533, 18.201], "nice": false, "zero": false}, "axis": null}, "x2": {"datum": 3.474}, "y": {"datum": -2.459, "type": "quantitative", "scale": {"domain": [-5.832, 5.73], "nice": false, "zero": false}, "axis": null}, "y2": {"datum": -3.59}}},
    {"data": {"values": [{}]}, "mark": {"type": "text", "text": "s □ [-1, 1]", "fontSize": 21.33, "color": "#ff0000", "align": "center"},
     "encoding": {"x": {"datum": 1.877, "type": "quantitative", "scale": {"domain": [-9.533, 18.201], "nice": false, "zero": false}, "axis": null}, "y": {"datum": -3.024, "type": "quantitative", "scale": {"domain": [-5.832, 5.73], "nice": false, "zero": false}, "axis": null}}},
    {"data": {"values": [{}]}, "mark": {"type": "circle", "size": 180, "fill": "#ff0000", "stroke": "#0000ff", "strokeWidth": 3, "opacity": 1},
     "encoding": {"x": {"datum": 0, "type": "quantitative", "scale": {"domain": [-9.533, 18.201], "nice": false, "zero": false}, "axis": null}, "y": {"datum": 0, "type": "quantitative", "scale": {"domain": [-5.832, 5.73], "nice": false, "zero": false}, "axis": null}}},
    {"data": {"values": [{}]}, "mark": {"type": "text", "text": "O(0, 0)", "fontSize": 17, "color": "#000000", "align": "left", "dx": 7, "dy": 21.5},
     "encoding": {"x": {"datum": 0, "type": "quantitative", "scale": {"domain": [-9.533, 18.201], "nice": false, "zero": false}, "axis": null}, "y": {"datum": 0, "type": "quantitative", "scale": {"domain": [-5.832, 5.73], "nice": false, "zero": false}, "axis": null}}}
   ]
  },
  {
   "layer": [
    {"data": {"values": [{"t":-4},{"t":-2},{"t":2},{"t":4}]}, "mark": {"type": "rule", "color": "#e2e2e2", "strokeWidth": 1},
     "encoding": {"x": {"field": "t", "type": "quantitative", "scale": {"domain": [-18.316, 9.45], "nice": false, "zero": false}, "axis": null}, "y": {"datum": -5.75, "type": "quantitative", "scale": {"domain": [-5.803, 5.742], "nice": false, "zero": false}, "axis": null}, "y2": {"datum": 5.68}}},
    {"data": {"values": [{"f":-4},{"f":-2},{"f":2},{"f":4}]}, "mark": {"type": "rule", "color": "#e2e2e2", "strokeWidth": 1},
     "encoding": {"y": {"field": "f", "type": "quantitative", "scale": {"domain": [-5.803, 5.742], "nice": false, "zero": false}, "axis": null}, "x": {"datum": -4.12, "type": "quantitative", "scale": {"domain": [-18.316, 9.45], "nice": false, "zero": false}, "axis": null}, "x2": {"datum": 4.14}}},
    {"data": {"values": [{}]}, "mark": {"type": "rule", "color": "#a0a0a0", "strokeWidth": 1},
     "encoding": {"x": {"datum": 0, "type": "quantitative", "scale": {"domain": [-18.316, 9.45], "nice": false, "zero": false}, "axis": null}, "y": {"datum": -5.75, "type": "quantitative", "scale": {"domain": [-5.803, 5.742], "nice": false, "zero": false}, "axis": null}, "y2": {"datum": 5.68}}},
    {"data": {"values": [{}]}, "mark": {"type": "rule", "color": "#a0a0a0", "strokeWidth": 1},
     "encoding": {"y": {"datum": 0, "type": "quantitative", "scale": {"domain": [-5.803, 5.742], "nice": false, "zero": false}, "axis": null}, "x": {"datum": -4.12, "type": "quantitative", "scale": {"domain": [-18.316, 9.45], "nice": false, "zero": false}, "axis": null}, "x2": {"datum": 4.14}}},
    {"data": {"values": [{"t":-4},{"t":-3.5},{"t":-3},{"t":-2.5},{"t":-2},{"t":-1.5},{"t":-1},{"t":-0.5},{"t":0.5},{"t":1},{"t":1.5},{"t":2},{"t":2.5},{"t":3},{"t":3.5},{"t":4}]}, "mark": {"type": "tick", "orient": "vertical", "size": 3, "thickness": 1, "color": "#a0a0a0", "opacity": 1, "yOffset": -1.5},
     "encoding": {"x": {"field": "t", "type": "quantitative", "scale": {"domain": [-18.316, 9.45], "nice": false, "zero": false}, "axis": null}, "y": {"datum": 0, "type": "quantitative", "scale": {"domain": [-5.803, 5.742], "nice": false, "zero": false}, "axis": null}}},
    {"data": {"values": [{"f":-5.5},{"f":-5},{"f":-4.5},{"f":-4},{"f":-3.5},{"f":-3},{"f":-2.5},{"f":-2},{"f":-1.5},{"f":-1},{"f":-0.5},{"f":0.5},{"f":1},{"f":1.5},{"f":2},{"f":2.5},{"f":3},{"f":3.5},{"f":4},{"f":4.5},{"f":5},{"f":5.5}]}, "mark": {"type": "tick", "orient": "horizontal", "size": 3, "thickness": 1, "color": "#a0a0a0", "opacity": 1, "xOffset": 1.5},
     "encoding": {"y": {"field": "f", "type": "quantitative", "scale": {"domain": [-5.803, 5.742], "nice": false, "zero": false}, "axis": null}, "x": {"datum": 0, "type": "quantitative", "scale": {"domain": [-18.316, 9.45], "nice": false, "zero": false}, "axis": null}}},
    {"data": {"name": "d2"}, "mark": {"type": "line", "strokeWidth": 1, "opacity": 0.9},
     "encoding": {"x": {"field": "t", "type": "quantitative", "scale": {"domain": [-18.316, 9.45], "nice": false, "zero": false}, "axis": null}, "y": {"field": "f", "type": "quantitative", "scale": {"domain": [-5.803, 5.742], "nice": false, "zero": false}, "axis": null},
      "color": {"field": "s", "type": "ordinal", "scale": {"domain": [-20,-16,-14,-12,-10,-8,-4,0,4,8,10,12,14,16,20], "range": ["#3f3d99","#3d5a99","#996d3d","#3d7999","#994e3d","#3d9899","#3d997b","#3d995c","#3d993e","#5c993d","#6b3d99","#7a993d","#4c3d99","#99983d","#997a3d"]}, "legend": null}, "order": {"value": null}}},
    {"data": {"values": [{"t":-4,"l":"□4"},{"t":-2,"l":"□2"},{"t":2,"l":"2"},{"t":4,"l":"4"}]}, "mark": {"type": "text", "fontSize": 12, "color": "#333333", "dy": 12.5, "align": "center"},
     "encoding": {"x": {"field": "t", "type": "quantitative", "scale": {"domain": [-18.316, 9.45], "nice": false, "zero": false}, "axis": null}, "y": {"datum": 0, "type": "quantitative", "scale": {"domain": [-5.803, 5.742], "nice": false, "zero": false}, "axis": null}, "text": {"field": "l"}}},
    {"data": {"values": [{"f":4,"l":"4"},{"f":2,"l":"2"},{"f":-2,"l":"□2"},{"f":-4,"l":"□4"}]}, "mark": {"type": "text", "fontSize": 12, "color": "#333333", "dx": -4, "align": "right"},
     "encoding": {"y": {"field": "f", "type": "quantitative", "scale": {"domain": [-5.803, 5.742], "nice": false, "zero": false}, "axis": null}, "x": {"datum": 0, "type": "quantitative", "scale": {"domain": [-18.316, 9.45], "nice": false, "zero": false}, "axis": null}, "text": {"field": "l"}}},
    {"data": {"values": [{}]}, "mark": {"type": "rect", "fill": "#ffffff", "stroke": "#ffc000", "strokeWidth": 3, "cornerRadius": 9},
     "encoding": {"x": {"datum": 0.28, "type": "quantitative", "scale": {"domain": [-18.316, 9.45], "nice": false, "zero": false}, "axis": null}, "x2": {"datum": 3.475}, "y": {"datum": -2.43, "type": "quantitative", "scale": {"domain": [-5.803, 5.742], "nice": false, "zero": false}, "axis": null}, "y2": {"datum": -3.543}}},
    {"data": {"values": [{}]}, "mark": {"type": "text", "text": "s □ [-2, 2]", "fontSize": 21.33, "color": "#ff0000", "align": "center"},
     "encoding": {"x": {"datum": 1.878, "type": "quantitative", "scale": {"domain": [-18.316, 9.45], "nice": false, "zero": false}, "axis": null}, "y": {"datum": -2.987, "type": "quantitative", "scale": {"domain": [-5.803, 5.742], "nice": false, "zero": false}, "axis": null}}},
    {"data": {"values": [{}]}, "mark": {"type": "circle", "size": 180, "fill": "#ff0000", "stroke": "#0000ff", "strokeWidth": 3, "opacity": 1},
     "encoding": {"x": {"datum": 0, "type": "quantitative", "scale": {"domain": [-18.316, 9.45], "nice": false, "zero": false}, "axis": null}, "y": {"datum": 0, "type": "quantitative", "scale": {"domain": [-5.803, 5.742], "nice": false, "zero": false}, "axis": null}}},
    {"data": {"values": [{}]}, "mark": {"type": "text", "text": "O(0, 0)", "fontSize": 17, "color": "#000000", "align": "left", "dx": 15, "dy": 28.5},
     "encoding": {"x": {"datum": 0, "type": "quantitative", "scale": {"domain": [-18.316, 9.45], "nice": false, "zero": false}, "axis": null}, "y": {"datum": 0, "type": "quantitative", "scale": {"domain": [-5.803, 5.742], "nice": false, "zero": false}, "axis": null}}}
   ]
  }
 ],
 "resolve": {"scale": {"x": "independent", "y": "independent", "color": "independent"}}
},
{
 "hconcat": [
  {"width": 590, "height": 76, "data": {"values": [{}]},
   "encoding": {"x": {"datum": 0.5, "type": "quantitative", "scale": {"domain": [0, 1]}, "axis": null}, "y": {"datum": 0.5, "type": "quantitative", "scale": {"domain": [0, 1]}, "axis": null}},
   "layer": [
    {"mark": {"type": "text", "text": "ParametricPlot[Evaluate[Table[{t+2, 1.5 (t+ArcSin[0.1 s", "fontSize": 21.33, "color": "#000000", "dy": -24}},
    {"mark": {"type": "text", "text": "Sin[t]/Sqrt[1+(0.1 s)^2 -0.2 s Cos[t]]])+3},", "fontSize": 21.33, "color": "#000000", "dy": 0}},
    {"mark": {"type": "text", "text": "{s, -10, 10}], {t,-1.25 Pi,1.25 Pi}]", "fontSize": 21.33, "color": "#000000", "dy": 24}}
   ]},
  {"width": 589, "height": 76, "data": {"values": [{}]},
   "encoding": {"x": {"datum": 0.5, "type": "quantitative", "scale": {"domain": [0, 1]}, "axis": null}, "y": {"datum": 0.5, "type": "quantitative", "scale": {"domain": [0, 1]}, "axis": null}},
   "layer": [
    {"mark": {"type": "text", "text": "ParametricPlot[Evaluate[Table[{t+2, -1.2 (t+ArcSin[0.1 s", "fontSize": 21.33, "color": "#000000", "dy": -24}},
    {"mark": {"type": "text", "text": "Sin[t]/Sqrt[1+(0.1 s)^2 -0.2 s Cos[t]]])+3},{s,-20,20}],{t,-1.25", "fontSize": 21.33, "color": "#000000", "dy": 0}},
    {"mark": {"type": "text", "text": "Pi,1.25 Pi}]", "fontSize": 21.33, "color": "#000000", "dy": 24}}
   ]}
 ],
 "spacing": 6
},
{
 "width": 1187, "height": 586,
 "layer": [
  {
   "layer": [
    {"data": {"values": [{"x":-2},{"x":2},{"x":4},{"x":6}]}, "mark": {"type": "rule", "color": "#e2e2e2", "strokeWidth": 1},
     "encoding": {"x": {"field": "x", "type": "quantitative", "scale": {"domain": [-9.301, 22.018], "nice": false, "zero": false}, "axis": null}, "y": {"datum": -4.96, "type": "quantitative", "scale": {"domain": [-5.043, 11.043], "nice": false, "zero": false}, "axis": null}, "y2": {"datum": 10.88}}},
    {"data": {"values": [{"y":-4},{"y":-2},{"y":2},{"y":4},{"y":6},{"y":8},{"y":10}]}, "mark": {"type": "rule", "color": "#e2e2e2", "strokeWidth": 1},
     "encoding": {"y": {"field": "y", "type": "quantitative", "scale": {"domain": [-5.043, 11.043], "nice": false, "zero": false}, "axis": null}, "x": {"datum": -2.04, "type": "quantitative", "scale": {"domain": [-9.301, 22.018], "nice": false, "zero": false}, "axis": null}, "x2": {"datum": 6.09}}},
    {"data": {"values": [{}]}, "mark": {"type": "rule", "color": "#a0a0a0", "strokeWidth": 1},
     "encoding": {"x": {"datum": 0, "type": "quantitative", "scale": {"domain": [-9.301, 22.018], "nice": false, "zero": false}, "axis": null}, "y": {"datum": -4.96, "type": "quantitative", "scale": {"domain": [-5.043, 11.043], "nice": false, "zero": false}, "axis": null}, "y2": {"datum": 10.88}}},
    {"data": {"values": [{}]}, "mark": {"type": "rule", "color": "#a0a0a0", "strokeWidth": 1},
     "encoding": {"y": {"datum": 0, "type": "quantitative", "scale": {"domain": [-5.043, 11.043], "nice": false, "zero": false}, "axis": null}, "x": {"datum": -2.04, "type": "quantitative", "scale": {"domain": [-9.301, 22.018], "nice": false, "zero": false}, "axis": null}, "x2": {"datum": 6.09}}},
    {"data": {"values": [{"x":-2},{"x":-1.5},{"x":-1},{"x":-0.5},{"x":0.5},{"x":1},{"x":1.5},{"x":2},{"x":2.5},{"x":3},{"x":3.5},{"x":4},{"x":4.5},{"x":5},{"x":5.5},{"x":6}]}, "mark": {"type": "tick", "orient": "vertical", "size": 3, "thickness": 1, "color": "#a0a0a0", "opacity": 1, "yOffset": -1.5},
     "encoding": {"x": {"field": "x", "type": "quantitative", "scale": {"domain": [-9.301, 22.018], "nice": false, "zero": false}, "axis": null}, "y": {"datum": 0, "type": "quantitative", "scale": {"domain": [-5.043, 11.043], "nice": false, "zero": false}, "axis": null}}},
    {"data": {"values": [{"y":-4.5},{"y":-4},{"y":-3.5},{"y":-3},{"y":-2.5},{"y":-2},{"y":-1.5},{"y":-1},{"y":-0.5},{"y":0.5},{"y":1},{"y":1.5},{"y":2},{"y":2.5},{"y":3},{"y":3.5},{"y":4},{"y":4.5},{"y":5},{"y":5.5},{"y":6},{"y":6.5},{"y":7},{"y":7.5},{"y":8},{"y":8.5},{"y":9},{"y":9.5},{"y":10},{"y":10.5}]}, "mark": {"type": "tick", "orient": "horizontal", "size": 3, "thickness": 1, "color": "#a0a0a0", "opacity": 1, "xOffset": 1.5},
     "encoding": {"y": {"field": "y", "type": "quantitative", "scale": {"domain": [-5.043, 11.043], "nice": false, "zero": false}, "axis": null}, "x": {"datum": 0, "type": "quantitative", "scale": {"domain": [-9.301, 22.018], "nice": false, "zero": false}, "axis": null}}},
    {"data": {"name": "d1"}, "mark": {"type": "line", "strokeWidth": 1, "opacity": 0.9},
     "encoding": {"x": {"field": "x", "type": "quantitative", "scale": {"domain": [-9.301, 22.018], "nice": false, "zero": false}, "axis": null}, "y": {"field": "y", "type": "quantitative", "scale": {"domain": [-5.043, 11.043], "nice": false, "zero": false}, "axis": null},
      "color": {"field": "s", "type": "ordinal", "scale": {"domain": [-10,-8,-6,-4,-2,0,2,4,6,8,10], "range": ["#3f3d99","#998b3d","#3d5a99","#996d3d","#3d7999","#994e3d","#3d9899","#993d4c","#3d997b","#993d6a","#3d995c"]}, "legend": null}, "order": {"value": null}}},
    {"data": {"values": [{"x":-2,"l":"□2"},{"x":2,"l":"2"},{"x":4,"l":"4"},{"x":6,"l":"6"}]}, "mark": {"type": "text", "fontSize": 15, "color": "#333333", "dy": 12.5, "align": "center"},
     "encoding": {"x": {"field": "x", "type": "quantitative", "scale": {"domain": [-9.301, 22.018], "nice": false, "zero": false}, "axis": null}, "y": {"datum": 0, "type": "quantitative", "scale": {"domain": [-5.043, 11.043], "nice": false, "zero": false}, "axis": null}, "text": {"field": "l"}}},
    {"data": {"values": [{"y":10,"l":"10"},{"y":8,"l":"8"},{"y":6,"l":"6"},{"y":4,"l":"4"},{"y":2,"l":"2"},{"y":-2,"l":"□2"},{"y":-4,"l":"□4"}]}, "mark": {"type": "text", "fontSize": 15, "color": "#333333", "dx": -5, "align": "right"},
     "encoding": {"y": {"field": "y", "type": "quantitative", "scale": {"domain": [-5.043, 11.043], "nice": false, "zero": false}, "axis": null}, "x": {"datum": 0, "type": "quantitative", "scale": {"domain": [-9.301, 22.018], "nice": false, "zero": false}, "axis": null}, "text": {"field": "l"}}},
    {"data": {"values": [{}]}, "mark": {"type": "circle", "size": 400, "fill": "#000000", "opacity": 1},
     "encoding": {"x": {"datum": 0, "type": "quantitative", "scale": {"domain": [-9.301, 22.018], "nice": false, "zero": false}, "axis": null}, "y": {"datum": 0, "type": "quantitative", "scale": {"domain": [-5.043, 11.043], "nice": false, "zero": false}, "axis": null}}},
    {"data": {"values": [{}]}, "mark": {"type": "circle", "size": 320, "fill": "#ff0000", "stroke": "#0000ff", "strokeWidth": 4, "opacity": 1},
     "encoding": {"x": {"datum": 2, "type": "quantitative", "scale": {"domain": [-9.301, 22.018], "nice": false, "zero": false}, "axis": null}, "y": {"datum": 3, "type": "quantitative", "scale": {"domain": [-5.043, 11.043], "nice": false, "zero": false}, "axis": null}}},
    {"data": {"values": [{}]}, "mark": {"type": "text", "text": "O(0, 0)", "fontSize": 22, "color": "#000000", "align": "left", "dx": 25.5, "dy": 31},
     "encoding": {"x": {"datum": 0, "type": "quantitative", "scale": {"domain": [-9.301, 22.018], "nice": false, "zero": false}, "axis": null}, "y": {"datum": 0, "type": "quantitative", "scale": {"domain": [-5.043, 11.043], "nice": false, "zero": false}, "axis": null}}}
   ]
  },
  {
   "layer": [
    {"data": {"values": [{"x":-2},{"x":2},{"x":4},{"x":6}]}, "mark": {"type": "rule", "color": "#e2e2e2", "strokeWidth": 1},
     "encoding": {"x": {"field": "x", "type": "quantitative", "scale": {"domain": [-17.961, 13.072], "nice": false, "zero": false}, "axis": null}, "y": {"datum": -3.89, "type": "quantitative", "scale": {"domain": [-4.923, 10.988], "nice": false, "zero": false}, "axis": null}, "y2": {"datum": 9.875}}},
    {"data": {"values": [{"y":-2},{"y":2},{"y":4},{"y":6},{"y":8}]}, "mark": {"type": "rule", "color": "#e2e2e2", "strokeWidth": 1},
     "encoding": {"y": {"field": "y", "type": "quantitative", "scale": {"domain": [-4.923, 10.988], "nice": false, "zero": false}, "axis": null}, "x": {"datum": -2.05, "type": "quantitative", "scale": {"domain": [-17.961, 13.072], "nice": false, "zero": false}, "axis": null}, "x2": {"datum": 6.1}}},
    {"data": {"values": [{}]}, "mark": {"type": "rule", "color": "#a0a0a0", "strokeWidth": 1},
     "encoding": {"x": {"datum": 0, "type": "quantitative", "scale": {"domain": [-17.961, 13.072], "nice": false, "zero": false}, "axis": null}, "y": {"datum": -3.89, "type": "quantitative", "scale": {"domain": [-4.923, 10.988], "nice": false, "zero": false}, "axis": null}, "y2": {"datum": 9.875}}},
    {"data": {"values": [{}]}, "mark": {"type": "rule", "color": "#a0a0a0", "strokeWidth": 1},
     "encoding": {"y": {"datum": 0, "type": "quantitative", "scale": {"domain": [-4.923, 10.988], "nice": false, "zero": false}, "axis": null}, "x": {"datum": -2.05, "type": "quantitative", "scale": {"domain": [-17.961, 13.072], "nice": false, "zero": false}, "axis": null}, "x2": {"datum": 6.1}}},
    {"data": {"values": [{"x":-2},{"x":-1.5},{"x":-1},{"x":-0.5},{"x":0.5},{"x":1},{"x":1.5},{"x":2},{"x":2.5},{"x":3},{"x":3.5},{"x":4},{"x":4.5},{"x":5},{"x":5.5},{"x":6}]}, "mark": {"type": "tick", "orient": "vertical", "size": 3, "thickness": 1, "color": "#a0a0a0", "opacity": 1, "yOffset": -1.5},
     "encoding": {"x": {"field": "x", "type": "quantitative", "scale": {"domain": [-17.961, 13.072], "nice": false, "zero": false}, "axis": null}, "y": {"datum": 0, "type": "quantitative", "scale": {"domain": [-4.923, 10.988], "nice": false, "zero": false}, "axis": null}}},
    {"data": {"values": [{"y":-3.5},{"y":-3},{"y":-2.5},{"y":-2},{"y":-1.5},{"y":-1},{"y":-0.5},{"y":0.5},{"y":1},{"y":1.5},{"y":2},{"y":2.5},{"y":3},{"y":3.5},{"y":4},{"y":4.5},{"y":5},{"y":5.5},{"y":6},{"y":6.5},{"y":7},{"y":7.5},{"y":8},{"y":8.5},{"y":9},{"y":9.5}]}, "mark": {"type": "tick", "orient": "horizontal", "size": 3, "thickness": 1, "color": "#a0a0a0", "opacity": 1, "xOffset": 1.5},
     "encoding": {"y": {"field": "y", "type": "quantitative", "scale": {"domain": [-4.923, 10.988], "nice": false, "zero": false}, "axis": null}, "x": {"datum": 0, "type": "quantitative", "scale": {"domain": [-17.961, 13.072], "nice": false, "zero": false}, "axis": null}}},
    {"data": {"name": "d2"}, "mark": {"type": "line", "strokeWidth": 1, "opacity": 0.9},
     "encoding": {"x": {"field": "x", "type": "quantitative", "scale": {"domain": [-17.961, 13.072], "nice": false, "zero": false}, "axis": null}, "y": {"field": "y", "type": "quantitative", "scale": {"domain": [-4.923, 10.988], "nice": false, "zero": false}, "axis": null},
      "color": {"field": "s", "type": "ordinal", "scale": {"domain": [-20,-16,-14,-12,-10,-8,-4,0,4,8,10,12,14,16,20], "range": ["#3f3d99","#3d5a99","#996d3d","#3d7999","#994e3d","#3d9899","#3d997b","#3d995c","#3d993e","#5c993d","#6b3d99","#7a993d","#4c3d99","#99983d","#997a3d"]}, "legend": null}, "order": {"value": null}}},
    {"data": {"values": [{"x":-2,"l":"□2"},{"x":2,"l":"2"},{"x":4,"l":"4"},{"x":6,"l":"6"}]}, "mark": {"type": "text", "fontSize": 15, "color": "#333333", "dy": 10.5, "align": "center"},
     "encoding": {"x": {"field": "x", "type": "quantitative", "scale": {"domain": [-17.961, 13.072], "nice": false, "zero": false}, "axis": null}, "y": {"datum": 0, "type": "quantitative", "scale": {"domain": [-4.923, 10.988], "nice": false, "zero": false}, "axis": null}, "text": {"field": "l"}}},
    {"data": {"values": [{"y":8,"l":"8"},{"y":6,"l":"6"},{"y":4,"l":"4"},{"y":2,"l":"2"},{"y":-2,"l":"□2"}]}, "mark": {"type": "text", "fontSize": 15, "color": "#333333", "dx": -4, "align": "right"},
     "encoding": {"y": {"field": "y", "type": "quantitative", "scale": {"domain": [-4.923, 10.988], "nice": false, "zero": false}, "axis": null}, "x": {"datum": 0, "type": "quantitative", "scale": {"domain": [-17.961, 13.072], "nice": false, "zero": false}, "axis": null}, "text": {"field": "l"}}},
    {"data": {"values": [{}]}, "mark": {"type": "circle", "size": 400, "fill": "#000000", "opacity": 1},
     "encoding": {"x": {"datum": 0, "type": "quantitative", "scale": {"domain": [-17.961, 13.072], "nice": false, "zero": false}, "axis": null}, "y": {"datum": 0, "type": "quantitative", "scale": {"domain": [-4.923, 10.988], "nice": false, "zero": false}, "axis": null}}},
    {"data": {"values": [{}]}, "mark": {"type": "circle", "size": 320, "fill": "#ff0000", "stroke": "#0000ff", "strokeWidth": 4, "opacity": 1},
     "encoding": {"x": {"datum": 2, "type": "quantitative", "scale": {"domain": [-17.961, 13.072], "nice": false, "zero": false}, "axis": null}, "y": {"datum": 3, "type": "quantitative", "scale": {"domain": [-4.923, 10.988], "nice": false, "zero": false}, "axis": null}}},
    {"data": {"values": [{}]}, "mark": {"type": "text", "text": "O(0, 0)", "fontSize": 22, "color": "#000000", "align": "left", "dx": 8.5, "dy": 25},
     "encoding": {"x": {"datum": 0, "type": "quantitative", "scale": {"domain": [-17.961, 13.072], "nice": false, "zero": false}, "axis": null}, "y": {"datum": 0, "type": "quantitative", "scale": {"domain": [-4.923, 10.988], "nice": false, "zero": false}, "axis": null}}}
   ]
  }
 ],
 "resolve": {"scale": {"x": "independent", "y": "independent", "color": "independent"}}
},
{
 "width": 1187, "height": 43, "data": {"values": [{}]},
 "encoding": {"x": {"datum": 0.5, "type": "quantitative", "scale": {"domain": [0, 1]}, "axis": null}, "y": {"datum": 0.5, "type": "quantitative", "scale": {"domain": [0, 1]}, "axis": null}},
 "layer": [
  {"mark": {"type": "text", "text": "Fig. 5 Strâmbe de variabilă centrică", "fontSize": 29.33, "color": "#c00000", "align": "right", "dx": 198.2, "dy": -3.5}},
  {"mark": {"type": "text", "text": "α", "fontSize": 29.33, "color": "#0000ff", "align": "left", "dx": 205.5, "dy": -3.5}}
 ]
},
{
 "hconcat": [
  {"width": 590, "height": 52, "data": {"values": [{}]},
   "encoding": {"x": {"datum": 0.5, "type": "quantitative", "scale": {"domain": [0, 1]}, "axis": null}, "y": {"datum": 0.5, "type": "quantitative", "scale": {"domain": [0, 1]}, "axis": null}},
   "layer": [
    {"mark": {"type": "text", "text": "www.", "fontSize": 29.33, "color": "#000000", "align": "left", "dx": -175.1, "dy": -7}},
    {"mark": {"type": "text", "text": "Super", "fontSize": 29.33, "color": "#0070c0", "align": "left", "dx": -104.2, "dy": -7}},
    {"mark": {"type": "text", "text": "Mathe", "fontSize": 29.33, "color": "#ffc000", "align": "left", "dx": -35.8, "dy": -7}},
    {"mark": {"type": "text", "text": "matica", "fontSize": 29.33, "color": "#ff0000", "align": "left", "dx": 39.1, "dy": -7}},
    {"mark": {"type": "text", "text": ".com", "fontSize": 29.33, "color": "#000000", "align": "left", "dx": 117.3, "dy": -7}}
   ]},
  {"width": 589, "height": 52, "data": {"values": [{}]},
   "encoding": {"x": {"datum": 0.5, "type": "quantitative", "scale": {"domain": [0, 1]}, "axis": null}, "y": {"datum": 0.5, "type": "quantitative", "scale": {"domain": [0, 1]}, "axis": null}},
   "layer": [
    {"mark": {"type": "text", "text": "www.", "fontSize": 29.33, "color": "#000000", "align": "left", "dx": -154.8, "dy": -7}},
    {"mark": {"type": "text", "text": "Super", "fontSize": 29.33, "color": "#0070c0", "align": "left", "dx": -83.9, "dy": -7}},
    {"mark": {"type": "text", "text": "Mate", "fontSize": 29.33, "color": "#ffc000", "align": "left", "dx": -15.5, "dy": -7}},
    {"mark": {"type": "text", "text": "matica", "fontSize": 29.33, "color": "#ff0000", "align": "left", "dx": 44.8, "dy": -7}},
    {"mark": {"type": "text", "text": ".ro", "fontSize": 29.33, "color": "#000000", "align": "left", "dx": 123, "dy": -7}}
   ]}
 ],
 "spacing": 6
}
]
}
